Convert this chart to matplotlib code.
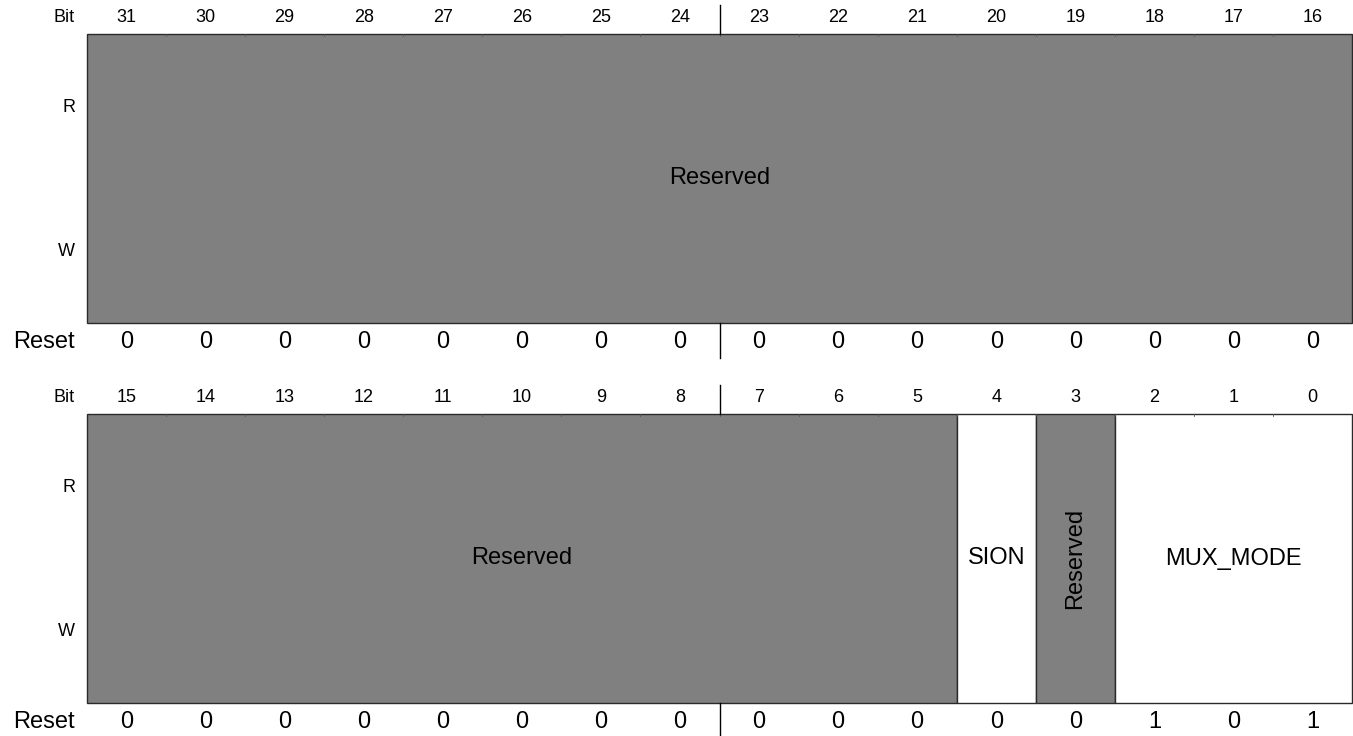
import matplotlib
matplotlib.use("Agg")
import matplotlib.pyplot as plt
from matplotlib.patches import Rectangle

plt.rcParams['font.family'] = ['Liberation Sans', 'DejaVu Sans']

# register description: two 16-bit halves
bits_high = [31, 30, 29, 28, 27, 26, 25, 24, 23, 22, 21, 20, 19, 18, 17, 16]
bits_low = [15, 14, 13, 12, 11, 10, 9, 8, 7, 6, 5, 4, 3, 2, 1, 0]

# fields: (name, msb, lsb, reserved, vertical text)
fields_high = [("Reserved", 31, 16, True, False)]
fields_low = [("Reserved", 15, 5, True, False),
              ("SION", 4, 4, False, False),
              ("Reserved", 3, 3, True, True),
              ("MUX_MODE", 2, 0, False, False)]

reset_high = [0, 0, 0, 0, 0, 0, 0, 0, 0, 0, 0, 0, 0, 0, 0, 0]
reset_low = [0, 0, 0, 0, 0, 0, 0, 0, 0, 0, 0, 0, 0, 1, 0, 1]

W, H = 1353, 736
BOX_X0 = 87.0
BIT_W = (1352.0 - BOX_X0) / 16
GRAY = "#808080"
EDGE = "#2a2a2a"
SMALL = 13
BIG = 17

fig = plt.figure(figsize=(W / 100, H / 100), dpi=100)
ax = fig.add_axes([0, 0, 1, 1])
ax.set_xlim(-BOX_X0 / BIT_W, (W - BOX_X0) / BIT_W)
ax.set_ylim(H, 0)
ax.axis("off")


def draw_block(bits, fields, resets, top):
    box_top = top
    box_bot = top + 289
    # row labels
    ax.text(-12 / BIT_W, top - 16, "Bit", ha="right", va="center", fontsize=SMALL)
    ax.text(-12 / BIT_W, top + 73, "R", ha="right", va="center", fontsize=SMALL)
    ax.text(-12 / BIT_W, top + 218, "W", ha="right", va="center", fontsize=SMALL)
    ax.text(-12 / BIT_W, box_bot + 19, "Reset", ha="right", va="center", fontsize=BIG)

    for i, b in enumerate(bits):
        ax.text(i + 0.5, top - 16, str(b), ha="center", va="center", fontsize=SMALL)
    for i, v in enumerate(resets):
        ax.text(i + 0.5, box_bot + 19, str(v), ha="center", va="center", fontsize=BIG)

    for name, msb, lsb, reserved, vertical in fields:
        x0 = bits.index(msb)
        x1 = bits.index(lsb) + 1
        ax.add_patch(Rectangle((x0, box_top), x1 - x0, box_bot - box_top,
                               facecolor=GRAY if reserved else "white",
                               edgecolor=EDGE, linewidth=1.0, zorder=2))
        ax.text((x0 + x1) / 2, (box_top + box_bot) / 2, name,
                ha="center", va="center", fontsize=BIG,
                rotation=90 if vertical else 0, zorder=3)

    # small ticks on the top edge at every bit boundary
    for i in range(1, 16):
        ax.plot([i, i], [box_top, box_top + 2], color="#555555", lw=0.6, zorder=3)

    # byte separator
    ax.plot([8, 8], [box_top - 29, box_top], color="black", lw=1.0, zorder=3)
    ax.plot([8, 8], [box_bot, box_bot + 35], color="black", lw=1.0, zorder=3)


draw_block(bits_high, fields_high, reset_high, 34)
draw_block(bits_low, fields_low, reset_low, 414)

fig.savefig("out.png", dpi=100)
